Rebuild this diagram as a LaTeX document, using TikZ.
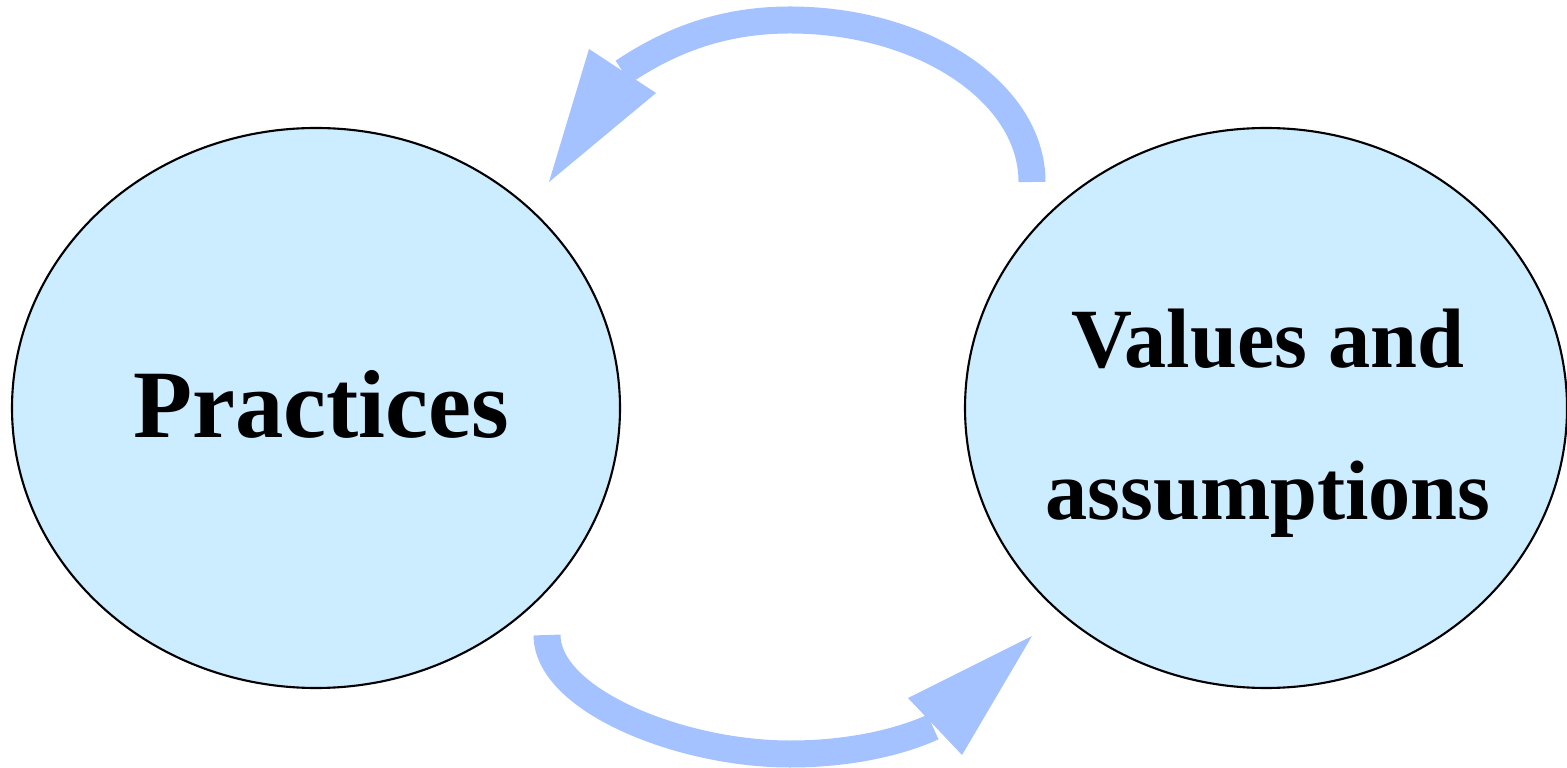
\documentclass[tikz,border=0pt]{standalone}
\usepackage{fontspec}
\setmainfont{Liberation Serif}
\usetikzlibrary{shapes.geometric}

\definecolor{bubblefill}{HTML}{CCECFF}
\definecolor{loopblue}{HTML}{A3C2FF}

\tikzset{
  bubble/.style={draw, ellipse, fill=bubblefill, line width=0.6pt,
    minimum height=5.6cm, inner sep=0pt},
  loopshaft/.style={draw=loopblue, line width=2.7mm},
  loophead/.style={fill=loopblue}
}

\begin{document}
\begin{tikzpicture}[x=0.1mm, y=-0.1mm]
\useasboundingbox (0,0) rectangle (1567,768);

% the two ellipses
\node[bubble, minimum width=6.08cm] (prac) at (316,408) {};
\node[bubble, minimum width=6.02cm] (vals) at (1266,408) {};

\node[font=\bfseries\fontsize{27.5}{33}\selectfont, anchor=base] (practxt) at (321,438) {Practices};
\node[font=\bfseries\fontsize{24}{43.4}\selectfont, align=center] (valstxt) at (1268,423) {Values and\\assumptions};

% ends of the two loop arrows
\coordinate (topstart) at (1032,182);
\coordinate (topend) at (623,72);
\coordinate (toptip) at (549,182);
\coordinate (topleft) at (589,49);
\coordinate (topright) at (656,93);

\coordinate (botstart) at (547,635);
\coordinate (botend) at (933,727);
\coordinate (bottip) at (1032,636);
\coordinate (botleft) at (908,698);
\coordinate (botright) at (962,755);

% upper arrow, values back to practices
\path[loopshaft] (topstart) .. controls (1032,92) and (922,20) .. (790,20)
  .. controls (720,20) and (668,42) .. (topend);
\path[loophead] (topleft) -- (toptip) -- (topright) -- cycle;

% lower arrow, practices to values
\path[loopshaft] (botstart) .. controls (547,700) and (680,754) .. (790,754)
  .. controls (850,754) and (900,742) .. (botend);
\path[loophead] (botleft) -- (bottip) -- (botright) -- cycle;
\end{tikzpicture}
\end{document}
